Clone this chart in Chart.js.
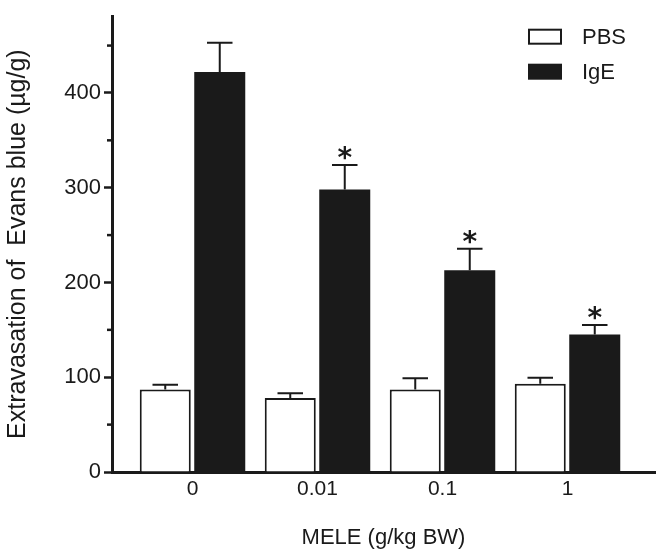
<!DOCTYPE html>
<html><head><meta charset="utf-8">
<script src="https://cdn.jsdelivr.net/npm/chart.js@4/dist/chart.umd.min.js"></script>
<style>html,body{margin:0;padding:0;background:#fff}#wrap{width:669px;height:553px}</style>
</head><body><div id="wrap"><canvas id="c" width="669" height="553"></canvas></div>
<script>
const categories = ['0', '0.01', '0.1', '1'];
const pbsValues = [87, 78, 87, 93];
const pbsErrors = [5, 5, 12, 6.5];
const igeValues = [422, 298, 213, 145];
const igeErrors = [31, 26, 22.5, 10];
const igeMarks = ['', '*', '*', '*'];
const seriesNames = ['PBS', 'IgE'];
const yTitle = 'Extravasation of  Evans blue (\u00b5g/g)';
const xTitle = 'MELE (g/kg BW)';

const INK = '#1a1a1a';
const FONT = '"Liberation Sans", Arial, sans-serif';

const minorTicks = {
  id: 'minorTicks',
  afterDraw(chart) {
    const y = chart.scales.y, ctx = chart.ctx, left = chart.chartArea.left;
    ctx.save();
    ctx.strokeStyle = INK; ctx.lineWidth = 2.5;
    y.ticks.forEach(t => {
      if (t.value % 100 !== 0) {
        const py = y.getPixelForValue(t.value);
        ctx.beginPath(); ctx.moveTo(left - 5, py); ctx.lineTo(left, py); ctx.stroke();
      }
    });
    ctx.restore();
  }
};

const errorBars = {
  id: 'errorBars',
  afterDatasetsDraw(chart) {
    const ctx = chart.ctx, y = chart.scales.y;
    chart.data.datasets.forEach((ds, d) => {
      const meta = chart.getDatasetMeta(d);
      meta.data.forEach((bar, i) => {
        const topV = ds.data[i].y + ds.errs[i];
        const py = y.getPixelForValue(topV);
        const half = bar.width / 4;
        ctx.save();
        ctx.strokeStyle = INK; ctx.lineWidth = 2;
        ctx.beginPath();
        ctx.moveTo(bar.x, bar.y); ctx.lineTo(bar.x, py);
        ctx.moveTo(bar.x - half, py); ctx.lineTo(bar.x + half, py);
        ctx.stroke();
        if (ds.marks && ds.marks[i]) {
          ctx.fillStyle = INK;
          ctx.font = 'bold 28px "DejaVu Sans", sans-serif';
          ctx.textAlign = 'center';
          ctx.textBaseline = 'alphabetic';
          ctx.fillText(ds.marks[i], bar.x, py + 2);
        }
        ctx.restore();
      });
    });
  }
};

const boxLegend = {
  id: 'boxLegend',
  afterDraw(chart) {
    const ctx = chart.ctx, a = chart.chartArea;
    const bx = a.right - 127, by0 = a.top + 12.5;
    chart.data.datasets.forEach((ds, d) => {
      const by = by0 + d * 35;
      ctx.save();
      if (d === 0) {
        ctx.fillStyle = '#fff'; ctx.fillRect(bx, by, 34, 16);
        ctx.strokeStyle = INK; ctx.lineWidth = 2; ctx.strokeRect(bx + 1, by + 1, 32, 14);
      } else {
        ctx.fillStyle = INK; ctx.fillRect(bx, by, 34, 16);
      }
      ctx.fillStyle = INK;
      ctx.font = '22px ' + FONT;
      ctx.textAlign = 'left'; ctx.textBaseline = 'middle';
      ctx.fillText(ds.label, bx + 54, by + 9);
      ctx.restore();
    });
  }
};

new Chart(document.getElementById('c'), {
  type: 'bar',
  data: {
    datasets: [
      {
        label: seriesNames[0],
        data: pbsValues.map((v, i) => ({x: i, y: v})),
        errs: pbsErrors,
        backgroundColor: '#ffffff',
        borderColor: INK,
        borderWidth: 2
      },
      {
        label: seriesNames[1],
        data: igeValues.map((v, i) => ({x: i, y: v})),
        errs: igeErrors,
        marks: igeMarks,
        backgroundColor: INK,
        borderColor: INK,
        borderWidth: 0
      }
    ]
  },
  options: {
    responsive: false,
    animation: false,
    devicePixelRatio: 1,
    categoryPercentage: 0.872,
    barPercentage: 0.936,
    layout: {padding: {top: 10, right: 14, left: 0, bottom: 0}},
    plugins: {legend: {display: false}, tooltip: {enabled: false}},
    scales: {
      x: {
        type: 'linear',
        offset: false,
        min: -0.644,
        max: 3.7,
        afterFit(s) { s.height = 81; },
        grid: {display: false, drawTicks: false, offset: false},
        border: {display: true, color: INK, width: 3},
        ticks: {
          stepSize: 1,
          includeBounds: false,
          padding: 5,
          color: INK,
          font: {family: FONT, size: 21},
          callback: v => (Number.isInteger(v) && categories[v] !== undefined) ? categories[v] : ''
        },
        title: {display: true, text: xTitle, color: INK, font: {family: FONT, size: 22}, padding: {top: 0, bottom: 2}}
      },
      y: {
        min: 0,
        max: 481,
        afterFit(s) { s.width = 112; },
        grid: {
          drawOnChartArea: false,
          tickLength: 8,
          tickWidth: 2.5,
          tickColor: c => (c.tick && c.tick.value % 100 === 0) ? INK : 'rgba(0,0,0,0)'
        },
        border: {display: true, color: INK, width: 3},
        ticks: {
          stepSize: 50,
          includeBounds: false,
          padding: 3,
          color: INK,
          font: {family: FONT, size: 22},
          callback: v => v % 100 === 0 ? String(v) : ''
        },
        title: {display: true, text: yTitle, color: INK, font: {family: FONT, size: 25}, padding: {top: 3, bottom: 0}}
      }
    }
  },
  plugins: [minorTicks, errorBars, boxLegend]
});
</script>
</body></html>
